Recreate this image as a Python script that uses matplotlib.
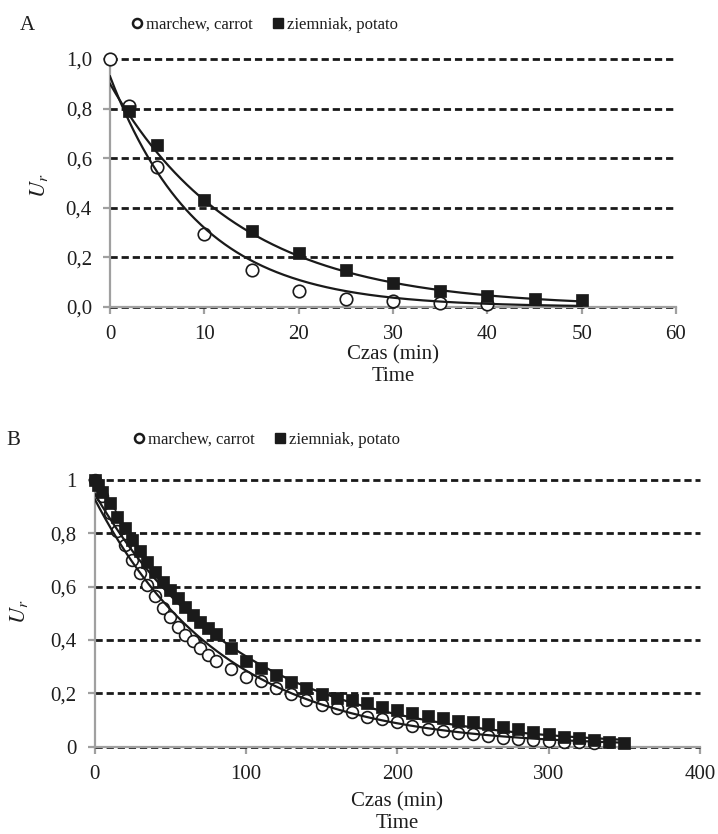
import numpy as np
import matplotlib
matplotlib.use("Agg")
import matplotlib.pyplot as plt
from matplotlib.lines import Line2D
from matplotlib.ticker import FuncFormatter, MultipleLocator

plt.rcParams['font.family'] = ['Liberation Serif', 'DejaVu Serif']
plt.rcParams['mathtext.fontset'] = 'stix'

# ---------------- Data: panel A ----------------
tA_carrot = [0, 2, 5, 10, 15, 20, 25, 30, 35, 40]
uA_carrot = [1.0, 0.81, 0.566, 0.295, 0.150, 0.064, 0.034, 0.024, 0.018, 0.014]
tA_potato = [2, 5, 10, 15, 20, 25, 30, 35, 40, 45, 50]
uA_potato = [0.79, 0.653, 0.431, 0.306, 0.217, 0.150, 0.096, 0.063, 0.044, 0.034, 0.028]
# exponential model fits (a * exp(-k t))
fitA_carrot = (0.93, 0.107)
fitA_potato = (0.90, 0.0738)
fitA_tmax = 50

# ---------------- Data: panel B ----------------
tB_carrot = [0, 5, 10, 15, 20, 25, 30, 35, 40, 45, 50, 55, 60, 65, 70, 75, 80,
             90, 100, 110, 120, 130, 140, 150, 160, 170, 180, 190, 200, 210, 220,
             230, 240, 250, 260, 270, 280, 290, 300, 310, 320, 330]
uB_carrot = [1.0, 0.94, 0.875, 0.81, 0.755, 0.70, 0.65, 0.605, 0.565, 0.52, 0.485,
             0.45, 0.42, 0.395, 0.37, 0.345, 0.32, 0.29, 0.263, 0.245, 0.22, 0.198,
             0.175, 0.156, 0.145, 0.131, 0.113, 0.103, 0.094, 0.078, 0.068, 0.06,
             0.053, 0.048, 0.04, 0.032, 0.029, 0.025, 0.02, 0.019, 0.018, 0.015]
tB_potato = [0, 2, 5, 10, 15, 20, 25, 30, 35, 40, 45, 50, 55, 60, 65, 70, 75, 80,
             90, 100, 110, 120, 130, 140, 150, 160, 170, 180, 190, 200, 210, 220,
             230, 240, 250, 260, 270, 280, 290, 300, 310, 320, 330, 340, 350]
uB_potato = [1.0, 0.98, 0.955, 0.913, 0.862, 0.819, 0.775, 0.734, 0.694, 0.656,
             0.619, 0.588, 0.556, 0.525, 0.494, 0.469, 0.444, 0.421, 0.369, 0.321,
             0.294, 0.269, 0.244, 0.219, 0.198, 0.181, 0.175, 0.163, 0.148, 0.138,
             0.125, 0.115, 0.106, 0.096, 0.091, 0.084, 0.075, 0.066, 0.056, 0.048,
             0.038, 0.031, 0.025, 0.018, 0.015]
fitB_carrot = (0.93, 0.0118)
fitB_potato = (0.95, 0.0103)
fitB_tmax = 350

legend_labels = ["marchew, carrot", "ziemniak, potato"]
xlabel_text = "Czas (min)\nTime"
ylabel_text = "$U_r$"

AXIS_GRAY = "#a0a0a0"
TXT = "#1e1e1e"

fig = plt.figure(figsize=(7.18, 8.34), dpi=100)


def style_axes(ax, xmax, xstep, yfmt):
    ax.set_xlim(0, xmax)
    ax.set_ylim(0, 1.0)
    ax.xaxis.set_major_locator(MultipleLocator(xstep))
    ax.yaxis.set_major_locator(MultipleLocator(0.2))
    ax.yaxis.set_major_formatter(FuncFormatter(yfmt))
    for s in ["top", "right"]:
        ax.spines[s].set_visible(False)
    for s in ["left", "bottom"]:
        ax.spines[s].set_color(AXIS_GRAY)
        ax.spines[s].set_linewidth(1.6)
        ax.spines[s].set_zorder(1.5)
    ax.tick_params(axis="both", direction="out", length=5, width=1.6,
                   color=AXIS_GRAY, labelsize=15, labelcolor=TXT, pad=8)
    ax.yaxis.grid(True, color="#1a1a1a", linewidth=2.0, linestyle=(0, (2.6, 1.4)))
    ax.set_axisbelow(True)
    for gl in ax.get_ygridlines():
        gl.set_clip_on(False)
    ax.set_xlabel(xlabel_text, fontsize=15, color=TXT, linespacing=1.2)
    ax.set_ylabel(ylabel_text, fontsize=16, color=TXT)


def fmt_A(v, pos):
    return f"{v:.1f}".replace(".", ",")


def fmt_B(v, pos):
    if abs(v) < 1e-9:
        return "0"
    if abs(v - 1) < 1e-9:
        return "1"
    return f"{v:.1f}".replace(".", ",")


def draw_panel(ax, tc, uc, tp, up, fc, fp, tmax, msc, mss):
    ax.plot(tc, uc, linestyle="none", marker="o", markersize=msc,
            markerfacecolor="white", markeredgecolor="#1a1a1a",
            markeredgewidth=1.2, clip_on=False, zorder=3)
    ax.plot(tp, up, linestyle="none", marker="s", markersize=mss,
            markerfacecolor="#1a1a1a", markeredgecolor="#1a1a1a",
            markeredgewidth=0.5, clip_on=False, zorder=4)
    tt = np.linspace(0, tmax, 400)
    ax.plot(tt, fc[0] * np.exp(-fc[1] * tt), color="#1a1a1a", lw=1.6, zorder=5)
    ax.plot(tt, fp[0] * np.exp(-fp[1] * tt), color="#1a1a1a", lw=1.6, zorder=5)


def add_legend(ax, cx, cy):
    h = [Line2D([], [], linestyle="none", marker="o", markersize=6.5,
                markerfacecolor="white", markeredgecolor="#1a1a1a",
                markeredgewidth=1.8),
         Line2D([], [], linestyle="none", marker="s", markersize=7.5,
                markerfacecolor="#1a1a1a", markeredgecolor="#1a1a1a")]
    ax.legend(h, legend_labels, loc="center", bbox_to_anchor=(cx, cy),
              bbox_transform=fig.transFigure, ncol=2, frameon=False,
              fontsize=12, handlelength=0.6, handletextpad=0.2,
              columnspacing=1.25, borderpad=0, labelcolor=TXT)


# ---------------- Panel A ----------------
axA = fig.add_axes([110 / 718, 1 - 307 / 834, 566 / 718, 248 / 834])
style_axes(axA, 60, 10, fmt_A)
draw_panel(axA, tA_carrot, uA_carrot, tA_potato, uA_potato,
           fitA_carrot, fitA_potato, fitA_tmax, 9, 8.5)
axA.xaxis.set_label_coords(0.5, -0.155)
axA.xaxis.label.set_verticalalignment("top")
axA.yaxis.set_label_coords(-0.106, 0.49)
add_legend(axA, 265 / 718, 1 - 25 / 834)
fig.text(27 / 718, 1 - 25 / 834, "A", fontsize=15, color=TXT,
         ha="center", va="center")

# ---------------- Panel B ----------------
axB = fig.add_axes([94.5 / 718, 1 - 746.7 / 834, 605.5 / 718, 266.7 / 834])
style_axes(axB, 400, 100, fmt_B)
draw_panel(axB, tB_carrot, uB_carrot, tB_potato, uB_potato,
           fitB_carrot, fitB_potato, fitB_tmax, 8.5, 8.5)
axB.xaxis.set_label_coords(0.5, -0.17)
axB.xaxis.label.set_verticalalignment("top")
axB.yaxis.set_label_coords(-0.1065, 0.505)
add_legend(axB, 267 / 718, 1 - 440 / 834)
fig.text(13 / 718, 1 - 440 / 834, "B", fontsize=15, color=TXT,
         ha="center", va="center")

fig.savefig("out.png", dpi=100)
